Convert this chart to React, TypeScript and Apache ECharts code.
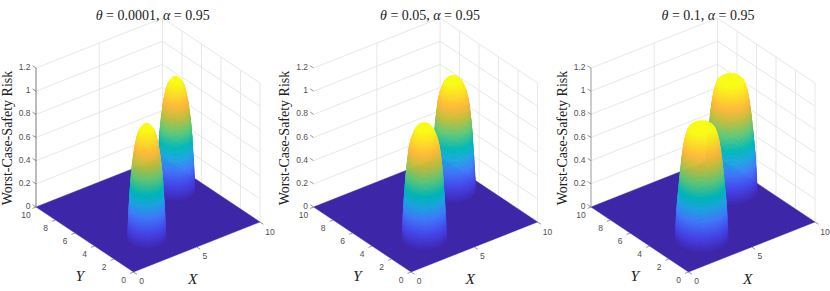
import React, { useEffect, useRef } from "react";
import * as echarts from "echarts";

// ---- data ----
const thetas = ["0.0001", "0.05", "0.1"];
const alpha = "0.95";
const xTicks = [0, 5, 10];
const yTicks = [0, 2, 4, 6, 8, 10];
const zTicks = [0, 0.2, 0.4, 0.6, 0.8, 1, 1.2];
const zTickLabels = ["0", "0.2", "0.4", "0.6", "0.8", "1", "1.2"];
// peak centres on the floor, back one first
const peakX = [8, 3.05];
const peakY = [6.05, 2.6];
// radius of the dome foot in each panel
const peakRadius = [1.2, 1.4, 1.66];
// radial stations (share of the foot radius) and the risk height at each, per panel
const stations = [0, 0.1, 0.2, 0.3, 0.4, 0.5, 0.6, 0.65, 0.7, 0.75, 0.8, 0.85, 0.9, 0.94, 0.97, 1];
const riskTheta1 = [1, 0.996, 0.985, 0.965, 0.94, 0.895, 0.815, 0.767, 0.71, 0.648, 0.57, 0.47, 0.345, 0.23, 0.125, 0];
const riskTheta2 = [1, 0.998, 0.99, 0.978, 0.955, 0.915, 0.86, 0.82, 0.765, 0.69, 0.6, 0.49, 0.355, 0.23, 0.125, 0];
const riskTheta3 = [1, 1, 0.998, 0.993, 0.98, 0.96, 0.9, 0.85, 0.78, 0.7, 0.6, 0.49, 0.37, 0.265, 0.15, 0];
const risks = [riskTheta1, riskTheta2, riskTheta3];

// ---- styles and layout ----
const parula = ["#3E26A8", "#4743E8", "#3F7CFB", "#1CA6E0", "#00B8B8", "#5CC878", "#C0BE3C", "#FFB838", "#F9FB15"];
const parulaAt = [0, 0.13, 0.27, 0.37, 0.46, 0.58, 0.7, 0.8, 0.97];
const panelLeft = [36, 313.6, 591];
const zAxisColor = ["#555555", "", "#808080"];
const frontPx = 97.5; // front corner's distance from the grid's left edge
const ex = [12.65, 5];
const ey = [-9.75, 6.5];
const ez = 115.8;
const gridW = 224;
const gridH = 254;
const gridTop = 18;
const tickColor = "#505050";
const wallColor = "#e4e4e4";
const sans = '"Liberation Sans", Arial, sans-serif';
const serif = '"Liberation Serif", "Times New Roman", serif';

const proj = (x: number, y: number, z: number) => [ex[0] * x + ey[0] * y, ex[1] * x + ey[1] * y + ez * z];

function hex(c: string) {
  return [1, 3, 5].map((i) => parseInt(c.slice(i, i + 2), 16));
}
function colorFor(z: number) {
  const t = Math.min(parulaAt[parulaAt.length - 1], Math.max(0, z));
  let i = 0;
  while (i < parulaAt.length - 2 && t > parulaAt[i + 1]) i++;
  const f = (t - parulaAt[i]) / (parulaAt[i + 1] - parulaAt[i]);
  const a = hex(parula[i]);
  const b = hex(parula[i + 1]);
  return `rgb(${a.map((v, k) => Math.round(v + (b[k] - v) * f)).join(",")})`;
}

// shading-interp mesh of one panel's domes built on the read radial table
function buildFacets(panel: number) {
  const out: number[][] = [];
  const R = peakRadius[panel];
  const risk = risks[panel];
  const sectors = 56;
  peakX.forEach((cx, p) => {
    const cy = peakY[p];
    const rows: number[][] = [];
    for (let i = 0; i < stations.length - 1; i++) {
      const shade = Math.ceil(Math.abs(risk[i + 1] - risk[i]) / 0.012) + 1;
      for (let s = 0; s < shade; s++) {
        const f0 = s / shade;
        const f1 = (s + 1) / shade;
        const r0 = R * (stations[i] + (stations[i + 1] - stations[i]) * f0);
        const r1 = R * (stations[i] + (stations[i + 1] - stations[i]) * f1);
        const z0 = risk[i] + (risk[i + 1] - risk[i]) * f0;
        const z1 = risk[i] + (risk[i + 1] - risk[i]) * f1;
        for (let k = 0; k < sectors; k++) {
          const a0 = (k / sectors) * 2 * Math.PI;
          const a1 = ((k + 1) / sectors) * 2 * Math.PI;
          const P = [
            proj(cx + r0 * Math.cos(a0), cy + r0 * Math.sin(a0), z0),
            proj(cx + r1 * Math.cos(a0), cy + r1 * Math.sin(a0), z1),
            proj(cx + r1 * Math.cos(a1), cy + r1 * Math.sin(a1), z1),
            proj(cx + r0 * Math.cos(a1), cy + r0 * Math.sin(a1), z0),
          ];
          let area = 0;
          for (let q = 0; q < 4; q++) {
            const A = P[q];
            const B = P[(q + 1) % 4];
            area += A[0] * B[1] - B[0] * A[1];
          }
          if (area <= 0) continue;
          const zm = (z0 + z1) / 2;
          const rm = (r0 + r1) / 2;
          const am = (a0 + a1) / 2;
          const depth = 8.3 * (cx + rm * Math.cos(am)) + 10.9 * (cy + rm * Math.sin(am)) - 69 * zm;
          rows.push([P[0][0], P[0][1], P[1][0], P[1][1], P[2][0], P[2][1], P[3][0], P[3][1], zm, depth]);
        }
      }
    }
    rows.sort((a, b) => b[9] - a[9]);
    out.push(...rows);
  });
  return out;
}

function wallRows() {
  const rows: number[][] = [];
  zTicks.forEach((z) => {
    rows.push([0, 10, z, 10, 10, z]);
    rows.push([10, 10, z, 10, 0, z]);
  });
  rows.push([5, 10, 0, 5, 10, 1.2]);
  yTicks.forEach((y) => rows.push([10, y, 0, 10, y, 1.2]));
  return rows;
}

function buildOption() {
  const series: any[] = [];
  const base = (p: number) => ({
    type: "custom",
    coordinateSystem: "cartesian2d",
    xAxisIndex: p,
    yAxisIndex: p,
    silent: true,
    progressive: 0,
    animation: false,
    clip: false,
  });
  thetas.forEach((_, p) => {
    series.push({
      ...base(p),
      name: "walls",
      data: wallRows(),
      renderItem: (_: any, api: any) => {
        const a = api.coord(proj(api.value(0), api.value(1), api.value(2)));
        const b = api.coord(proj(api.value(3), api.value(4), api.value(5)));
        return {
          type: "line",
          shape: { x1: a[0], y1: a[1], x2: b[0], y2: b[1] },
          style: { stroke: wallColor, lineWidth: 0.9 },
        };
      },
    });
    series.push({
      ...base(p),
      name: "floor",
      data: [[0, 0, 10, 0, 10, 10, 0, 10]],
      renderItem: (_: any, api: any) => {
        const pts = [0, 2, 4, 6].map((i) => api.coord(proj(api.value(i), api.value(i + 1), 0)));
        return { type: "polygon", shape: { points: pts }, style: { fill: colorFor(0), stroke: colorFor(0), lineWidth: 0.4 } };
      },
    });
    series.push({
      ...base(p),
      name: "risk surface",
      data: buildFacets(p),
      renderItem: (_: any, api: any) => {
        const pts = [0, 2, 4, 6].map((i) => api.coord([api.value(i), api.value(i + 1)]));
        const c = colorFor(api.value(8));
        return { type: "polygon", shape: { points: pts }, style: { fill: c, stroke: c, lineWidth: 0.6 } };
      },
    });
    // tick marks: world position plus a short world-space direction
    const tickRows: number[][] = [
      ...zTicks.map((z) => [0, 10, z, 0, 10.35, z]),
      ...xTicks.map((x) => [x, 0, 0, x, -0.35, 0]),
      ...yTicks.map((y) => [0, y, 0, -0.28, y, 0]),
    ];
    series.push({
      ...base(p),
      name: "ticks",
      data: tickRows,
      renderItem: (_: any, api: any) => {
        const a = api.coord(proj(api.value(0), api.value(1), api.value(2)));
        const b = api.coord(proj(api.value(3), api.value(4), api.value(5)));
        return {
          type: "line",
          shape: { x1: a[0], y1: a[1], x2: b[0], y2: b[1] },
          style: { stroke: "#666666", lineWidth: 0.7 },
        };
      },
    });
    if (zAxisColor[p]) {
      series.push({
        ...base(p),
        name: "z axis",
        data: [[0, 1.2]],
        renderItem: (_: any, api: any) => {
          const a = api.coord(proj(0, 10, api.value(0)));
          const b = api.coord(proj(0, 10, api.value(1)));
          return {
            type: "line",
            shape: { x1: a[0], y1: a[1], x2: b[0], y2: b[1] },
            style: { stroke: zAxisColor[p], lineWidth: 0.8 },
          };
        },
      });
    }
    const labels: any[] = [
      ...zTicks.map((z, i) => ({ w: [0, 10, z], dx: -5.5, dy: -1, text: zTickLabels[i], kind: "z" })),
      ...xTicks.map((x) => ({ w: [x, 0, 0], dx: x === 10 ? 10 : 8, dy: x === 10 ? 10 : 9, text: String(x), kind: "t" })),
      ...yTicks.map((y) => ({ w: [0, y, 0], dx: -10, dy: 8, text: String(y), kind: "t" })),
      { w: [5, 0, 0], dx: -4, dy: 31, text: "X", kind: "name" },
      { w: [0, 5, 0], dx: -5, dy: 36, text: "Y", kind: "name" },
    ];
    series.push({
      ...base(p),
      name: "labels",
      data: labels.map((_, i) => [i]),
      renderItem: (params: any, api: any) => {
        const l = labels[params.dataIndex];
        const c = api.coord(proj(l.w[0], l.w[1], l.w[2]));
        const isName = l.kind === "name";
        return {
          type: "text",
          x: c[0] + l.dx,
          y: c[1] + l.dy,
          style: {
            text: l.text,
            fill: isName ? "#222222" : tickColor,
            fontSize: isName ? 15.5 : 8.5,
            fontStyle: isName ? "italic" : "normal",
            fontFamily: isName ? serif : sans,
            align: l.kind === "z" ? "right" : "center",
            verticalAlign: "middle",
          },
        };
      },
    });
  });

  return {
    animation: false,
    backgroundColor: "#ffffff",
    title: thetas.map((t, p) => ({
      text: `{i|θ} = ${t}, {i|α} = ${alpha}`,
      left: [147.7, 425, 703][p],
      top: 3,
      textAlign: "center",
      textStyle: {
        rich: {
          i: { fontFamily: serif, fontStyle: "italic", fontSize: 14, color: "#222222" },
        },
        fontFamily: serif,
        fontWeight: "normal",
        fontSize: 14,
        color: "#222222",
      },
    })),
    grid: panelLeft.map((l) => ({ left: l, top: gridTop, width: gridW, height: gridH })),
    xAxis: panelLeft.map((_, p) => ({ type: "value", gridIndex: p, min: -frontPx, max: gridW - frontPx, show: false })),
    yAxis: panelLeft.map((_, p) => ({ type: "value", gridIndex: p, min: 0, max: gridH, show: false })),
    graphic: panelLeft.map((l) => ({
      type: "text",
      x: l - 29,
      y: 138,
      rotation: Math.PI / 2,
      style: {
        text: "Worst-Case-Safety Risk",
        fill: "#222222",
        fontFamily: serif,
        fontSize: 14,
        align: "center",
        verticalAlign: "middle",
      },
    })),
    series,
  };
}

export default function App() {
  const ref = useRef<HTMLDivElement>(null);
  useEffect(() => {
    const chart = echarts.init(ref.current!, undefined, { renderer: "svg" });
    chart.setOption(buildOption() as any);
    return () => chart.dispose();
  }, []);
  return <div ref={ref} style={{ position: "absolute", left: 0, top: 0, width: 830, height: 291 }} />;
}
